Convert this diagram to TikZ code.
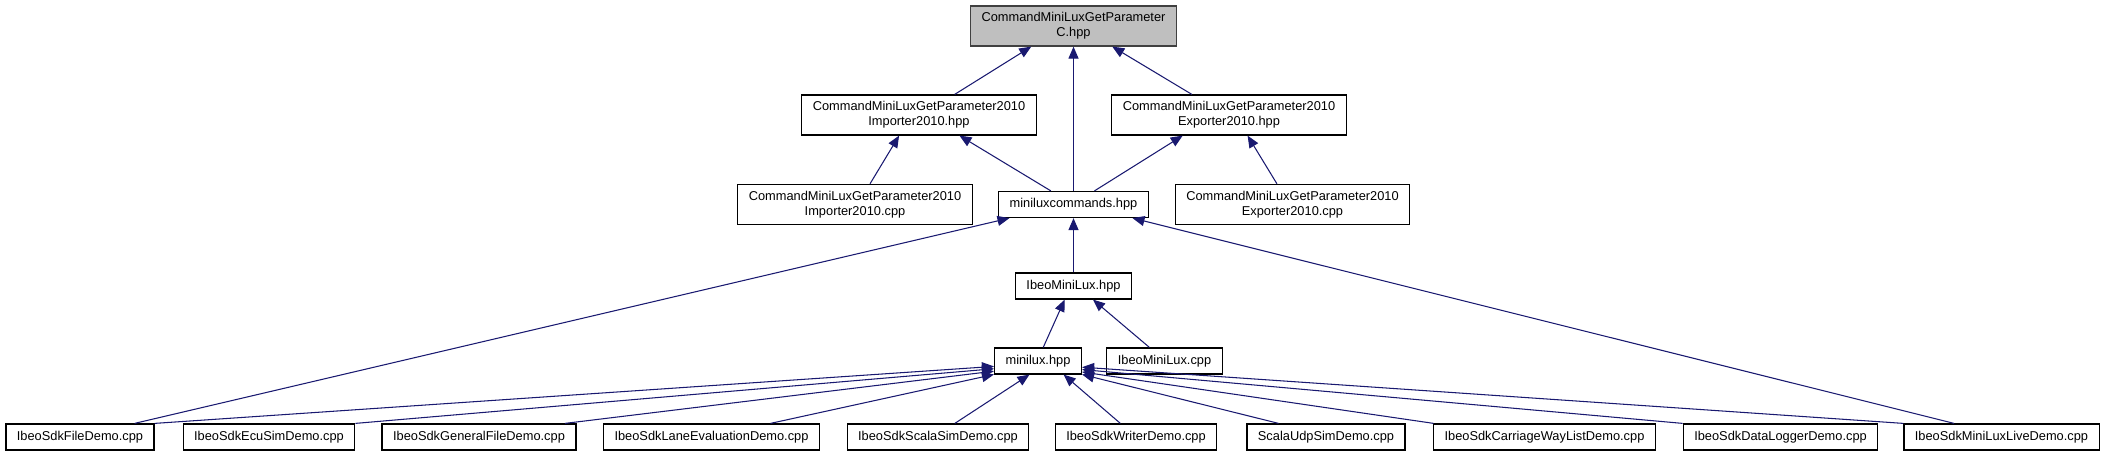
\documentclass[tikz,border=0pt]{standalone}
\usepackage{fontspec}
\setmainfont{Liberation Sans}
\usepackage{tikz}
\usetikzlibrary{calc, positioning, arrows.meta}
\usepackage{xcolor}
\definecolor{depblue}{RGB}{25,25,112}
\definecolor{headgrey}{RGB}{191,191,191}
\definecolor{headedge}{RGB}{64,64,64}
\tikzset{
    filebox/.style={draw=black, line width=0.7pt, fill=white, inner xsep=0.22cm, inner ysep=0pt, minimum height=0.52cm, align=center, font=\fontsize{7.3}{8.5}\selectfont},
    twobox/.style={filebox, minimum height=0.8cm},
    headbox/.style={twobox, draw=headedge, fill=headgrey},
    deparrow/.style={-{Triangle[length=0.24cm, width=0.2cm]}, line width=0.6pt, draw=depblue}
}
\begin{document}
\begin{tikzpicture}[x=0.02cm,y=-0.02cm]
            \useasboundingbox (0,0) rectangle (2108,455);
            % upper part
            \node[headbox] (top) at (1073.5,26) {CommandMiniLuxGetParameter\\C.hpp};
            \node[twobox] (imphpp) at (919,115) {CommandMiniLuxGetParameter2010\\Importer2010.hpp};
            \node[twobox] (exphpp) at (1229,115) {CommandMiniLuxGetParameter2010\\Exporter2010.hpp};
            \node[twobox] (impcpp) at (855,204.5) {CommandMiniLuxGetParameter2010\\Importer2010.cpp};
            \node[filebox] (cmds) at (1073.5,204.5) {miniluxcommands.hpp};
            \node[twobox] (expcpp) at (1292.5,204.5) {CommandMiniLuxGetParameter2010\\Exporter2010.cpp};
            \node[filebox] (mlhpp) at (1073.5,286) {IbeoMiniLux.hpp};
            \node[filebox] (mlx) at (1038,361) {minilux.hpp};
            \node[filebox] (mlcpp) at (1164.5,361) {IbeoMiniLux.cpp};
            % demo files
            \node[filebox] (filedemo) at (80,437) {IbeoSdkFileDemo.cpp};
            \node[filebox] (ecusim) at (269,437) {IbeoSdkEcuSimDemo.cpp};
            \node[filebox] (general) at (479,437) {IbeoSdkGeneralFileDemo.cpp};
            \node[filebox] (laneeval) at (711.5,437) {IbeoSdkLaneEvaluationDemo.cpp};
            \node[filebox] (scalasim) at (938,437) {IbeoSdkScalaSimDemo.cpp};
            \node[filebox] (writer) at (1136,437) {IbeoSdkWriterDemo.cpp};
            \node[filebox] (scalaudp) at (1326,437) {ScalaUdpSimDemo.cpp};
            \node[filebox] (carriage) at (1544.5,437) {IbeoSdkCarriageWayListDemo.cpp};
            \node[filebox] (logger) at (1780.5,437) {IbeoSdkDataLoggerDemo.cpp};
            \node[filebox] (livedemo) at (2001.5,437) {IbeoSdkMiniLuxLiveDemo.cpp};
            % includes
            \draw[deparrow] (imphpp.30) -- (top.206);
            \draw[deparrow] (cmds.north) -- (top.south);
            \draw[deparrow] (exphpp.151) -- (top.332);
            \draw[deparrow] (impcpp.54) -- (imphpp.226);
            \draw[deparrow] (cmds.149) -- (imphpp.333);
            \draw[deparrow] (cmds.33) -- (exphpp.204);
            \draw[deparrow] (expcpp.127) -- (exphpp.312);
            \draw[deparrow] (mlhpp.north) -- (cmds.south);
            \draw[deparrow] (filedemo.14) -- (cmds.192);
            \draw[deparrow] (livedemo.164) -- (cmds.347);
            \draw[deparrow] (mlx.69) -- (mlhpp.237);
            \draw[deparrow] (mlcpp.138) -- (mlhpp.325);
            \draw[deparrow] (filedemo.north east) -- (mlx.187);
            \draw[deparrow] (ecusim.north east) -- (mlx.190);
            \draw[deparrow] (general.9) -- (mlx.193);
            \draw[deparrow] (laneeval.13) -- (mlx.197);
            \draw[deparrow] (scalasim.39) -- (mlx.238);
            \draw[deparrow] (writer.139) -- (mlx.332);
            \draw[deparrow] (scalaudp.164) -- (mlx.343);
            \draw[deparrow] (carriage.173) -- (mlx.346);
            \draw[deparrow] (logger.north west) -- (mlx.349);
            \draw[deparrow] (livedemo.north west) -- (mlx.352);
        \end{tikzpicture}
\end{document}
